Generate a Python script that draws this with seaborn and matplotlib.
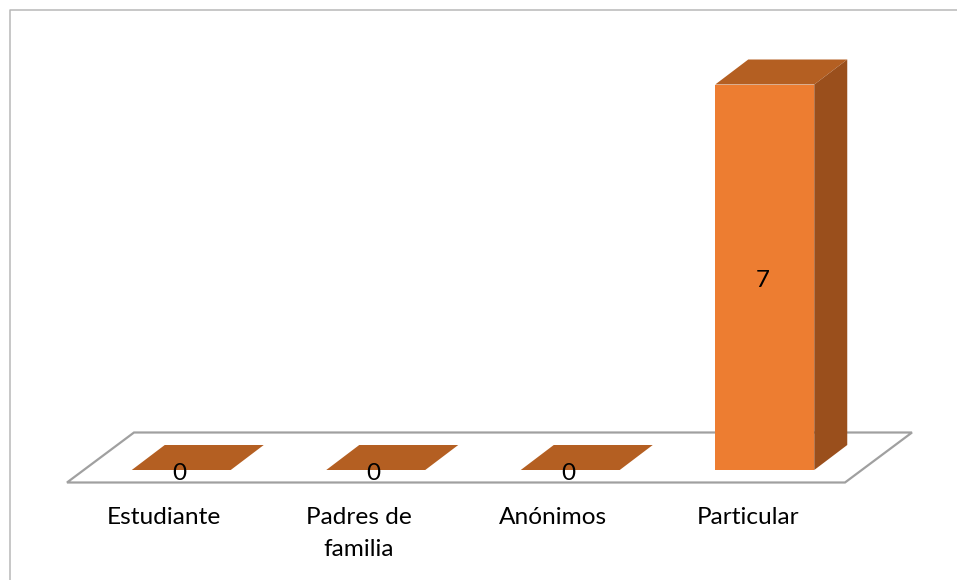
import matplotlib
matplotlib.use("Agg")
import matplotlib.pyplot as plt
from matplotlib.lines import Line2D
from matplotlib.patches import Polygon
from matplotlib.transforms import Affine2D, IdentityTransform
import seaborn as sns

categories = ["Estudiante", "Padres de\nfamilia", "Anónimos", "Particular"]
values = [0, 0, 0, 7]

FRONT = "#ED7D31"
TOP = "#B45F22"
SIDE = "#9A4F1C"

W, H = 957, 580
sns.set_style("white")
plt.rcParams["font.family"] = ["Lato", "DejaVu Sans"]

fig = plt.figure(figsize=(W / 100, H / 100), dpi=100)
ax = fig.add_axes([84 / W, (H - 470) / H, 778 / W, 385.5 / H])

sns.barplot(x=categories, y=values, color=FRONT, saturation=1, width=0.509, linewidth=0, ax=ax, zorder=3)
ax.set_xlim(-0.5, 3.5)
ax.set_ylim(0, 7)
ax.set_xlabel("")
ax.set_ylabel("")
ax.set_yticks([])
sns.despine(ax=ax, left=True, bottom=True)
ax.patch.set_visible(False)
fig.canvas.draw()

# floor of the 3d plot, in pixels relative to the axes corners
(x0, y0), (x1, y1) = ax.transAxes.transform([(0, 0), (1, 1)])
floor = [(x0 - 17, y0 - 12.5), (x1 - 17, y0 - 12.5), (x1 + 50, y0 + 37.5), (x0 + 50, y0 + 37.5)]
fig.add_artist(Polygon(floor, closed=True, fill=False, ec="#a0a0a0", lw=1.6, transform=IdentityTransform(), zorder=0))

# top and side faces of the bars
dx, dy = 33, 25
for bar in ax.patches:
    (bx0, by0), (bx1, by1) = ax.transData.transform(
        [(bar.get_x(), 0), (bar.get_x() + bar.get_width(), bar.get_height())])
    top = [(bx0, by1), (bx1, by1), (bx1 + dx, by1 + dy), (bx0 + dx, by1 + dy)]
    ax.add_patch(Polygon(top, closed=True, fc=TOP, ec="none", transform=IdentityTransform(), clip_on=False, zorder=2))
    if by1 > by0:
        side = [(bx1, by0), (bx1 + dx, by0 + dy), (bx1 + dx, by1 + dy), (bx1, by1)]
        ax.add_patch(Polygon(side, closed=True, fc=SIDE, ec="none", transform=IdentityTransform(), clip_on=False, zorder=2))

# value labels
labels = ax.bar_label(ax.containers[0], labels=[str(v) for v in values], label_type="center",
                      fontsize=17.5, color="black", zorder=5)
for t in labels:
    t.set_clip_on(False)
    t.set_zorder(5)
    t.xyann = (-1.6, -2.2)

# category labels sit under the front edge of the floor
ax.tick_params(axis="x", length=0, pad=27, labelsize=17.6, labelcolor="black")
for lab in ax.get_xticklabels():
    lab.set_linespacing(1.6)
    lab.set_transform(lab.get_transform() + Affine2D().translate(-17, 0))

# frame of the pasted picture, cut off at right and bottom
fig.add_artist(Line2D([10 / W, 10 / W, 1], [0, (H - 10) / H, (H - 10) / H], color="#b8b8b8", lw=1.1))

fig.savefig("out.png", dpi=100)
